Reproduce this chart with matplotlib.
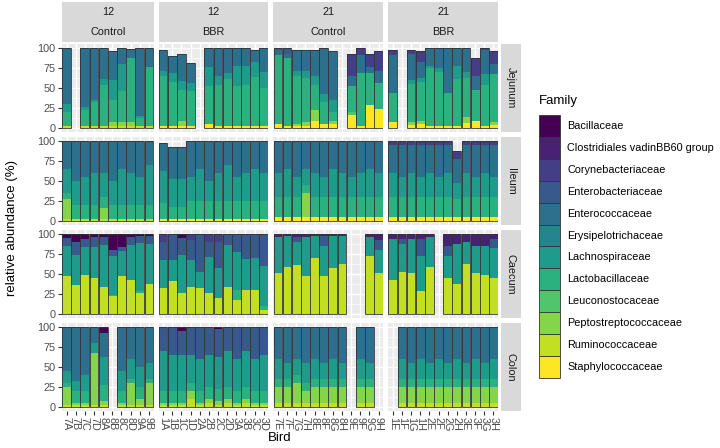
import matplotlib
matplotlib.use("Agg")
import matplotlib.pyplot as plt
from matplotlib.patches import Rectangle

plt.rcParams['font.family'] = ['Liberation Sans', 'DejaVu Sans']

# Families (legend order, top of the stack first) and viridis colours
families = ["Bacillaceae", "Clostridiales vadinBB60 group", "Corynebacteriaceae",
            "Enterobacteriaceae", "Enterococcaceae", "Erysipelotrichaceae",
            "Lachnospiraceae", "Lactobacillaceae", "Leuconostocaceae",
            "Peptostreptococcaceae", "Ruminococcaceae", "Staphylococcaceae"]
colors = ["#440154", "#482173", "#433E85", "#38598C", "#2D708E", "#25858E",
          "#1E9B8A", "#2BB07F", "#51C56A", "#85D54A", "#C2DF23", "#FDE725"]

days = ["12", "12", "21", "21"]
treatments = ["Control", "BBR", "Control", "BBR"]
tissues = ["Jejunum", "Ileum", "Caecum", "Colon"]

birds_12c = ["7A", "7B", "7C", "7D", "8A", "8B", "8C", "8D", "9A", "9B"]
birds_12b = ["1A", "1B", "1C", "1D", "2A", "2B", "2C", "2D", "3A", "3B", "3C", "3D"]
birds_21c = ["7E", "7F", "7G", "7H", "8E", "8F", "8G", "8H", "9E", "9F", "9G", "9H"]
birds_21b = ["1E", "1F", "1G", "1H", "2E", "2F", "2G", "2H", "3E", "3F", "3G", "3H"]

# relative abundance per bird, columns follow `families`
#            Bac Clo Cor Eb  Ec  Ery Lac Lab Leu Pep Rum Sta
jej_12c = [[0, 0, 0, 0, 70, 0, 10, 17, 0, 0, 3, 0],
           None,
           [0, 0, 0, 0, 74, 0, 4, 19, 0, 0, 3, 0],
           [0, 0, 0, 0, 65, 0, 2, 31, 0, 0, 2, 0],
           [0, 0, 0, 0, 39, 0, 7, 51, 0, 0, 3, 0],
           [0, 0, 0, 0, 36, 0, 25, 28, 0, 4, 3, 0],
           [0, 0, 0, 0, 20, 0, 34, 39, 0, 4, 3, 0],
           [0, 0, 0, 0, 11, 0, 0, 81, 0, 4, 3, 0],
           [0, 0, 0, 0, 85, 0, 2, 10, 0, 0, 3, 0],
           [0, 0, 0, 0, 24, 0, 0, 73, 0, 0, 3, 0]]
jej_12b = [[0, 0, 0, 0, 26, 0, 6, 62, 0, 0, 0, 3],
           [0, 0, 0, 0, 21, 0, 11, 56, 0, 0, 0, 2],
           [0, 0, 0, 0, 34, 0, 11, 39, 0, 6, 0, 3],
           [0, 0, 0, 0, 25, 0, 10, 44, 0, 0, 0, 2],
           None,
           [0, 0, 0, 0, 24, 0, 24, 47, 0, 0, 0, 5],
           [0, 0, 0, 0, 35, 0, 11, 52, 0, 0, 0, 2],
           [0, 0, 0, 0, 31, 0, 8, 59, 0, 0, 0, 2],
           [0, 0, 0, 0, 22, 0, 26, 50, 0, 0, 0, 2],
           [0, 0, 0, 0, 22, 0, 24, 52, 0, 0, 0, 2],
           [0, 0, 0, 0, 16, 0, 18, 62, 0, 0, 0, 2],
           [0, 0, 0, 0, 30, 0, 20, 48, 0, 0, 0, 2]]
jej_21c = [[0, 0, 0, 3, 6, 0, 0, 86, 0, 0, 0, 5],
           [0, 0, 0, 7, 5, 0, 0, 85, 0, 0, 0, 3],
           [0, 0, 0, 0, 27, 0, 6, 60, 0, 3, 0, 2],
           [0, 0, 0, 0, 27, 0, 8, 56, 0, 5, 0, 2],
           [0, 0, 0, 0, 32, 0, 11, 32, 0, 13, 0, 9],
           [0, 0, 0, 0, 58, 0, 9, 28, 0, 0, 0, 5],
           [0, 0, 0, 0, 61, 0, 15, 11, 0, 4, 0, 5],
           None,
           [0, 0, 28, 0, 13, 0, 0, 32, 4, 0, 0, 16],
           [0, 0, 9, 0, 22, 0, 0, 66, 0, 0, 0, 3],
           [0, 0, 17, 0, 7, 0, 0, 40, 0, 0, 0, 29],
           [0, 0, 25, 0, 15, 0, 0, 32, 0, 0, 0, 24]]
jej_21b = [[0, 0, 6, 0, 47, 0, 0, 37, 0, 0, 0, 7],
           None,
           [0, 0, 4, 0, 33, 0, 5, 48, 0, 3, 0, 4],
           [0, 0, 14, 0, 19, 0, 6, 48, 0, 4, 0, 5],
           [0, 0, 0, 0, 22, 0, 3, 73, 0, 0, 0, 2],
           [0, 0, 0, 0, 25, 0, 5, 68, 0, 0, 0, 2],
           [0, 0, 0, 0, 56, 0, 0, 42, 0, 0, 0, 2],
           [0, 0, 0, 0, 22, 0, 17, 58, 0, 0, 0, 3],
           [0, 0, 0, 0, 30, 0, 7, 49, 0, 8, 0, 6],
           [0, 0, 23, 0, 17, 0, 0, 39, 0, 0, 0, 9],
           [0, 0, 3, 0, 30, 0, 13, 52, 0, 0, 0, 2],
           [0, 0, 16, 0, 13, 0, 0, 60, 0, 3, 0, 4]]

ile_12c = [[0, 0, 0, 0, 35, 0, 30, 7, 0, 25, 3, 0],
           [0, 0, 0, 0, 50, 0, 30, 17, 0, 0, 3, 0],
           [0, 0, 0, 0, 45, 0, 35, 17, 0, 0, 3, 0],
           [0, 0, 0, 0, 40, 0, 40, 17, 0, 0, 3, 0],
           [0, 0, 0, 0, 40, 0, 30, 14, 0, 13, 3, 0],
           [0, 0, 0, 0, 50, 0, 30, 17, 0, 0, 3, 0],
           [0, 0, 0, 0, 35, 0, 45, 17, 0, 0, 3, 0],
           [0, 0, 0, 0, 40, 0, 40, 17, 0, 0, 3, 0],
           [0, 0, 0, 0, 45, 0, 35, 17, 0, 0, 3, 0],
           [0, 0, 0, 0, 30, 0, 50, 17, 0, 0, 3, 0]]
ile_12b = [[0, 0, 0, 0, 35, 0, 40, 20, 0, 0, 0, 2],
           [0, 0, 0, 0, 40, 0, 35, 16, 0, 0, 0, 2],
           [0, 0, 0, 0, 40, 0, 35, 16, 0, 0, 0, 2],
           [0, 0, 0, 0, 45, 0, 30, 23, 0, 0, 0, 2],
           [0, 0, 0, 0, 35, 0, 40, 23, 0, 0, 0, 2],
           [0, 0, 0, 0, 50, 0, 25, 23, 0, 0, 0, 2],
           [0, 0, 0, 0, 40, 0, 35, 23, 0, 0, 0, 2],
           [0, 0, 0, 0, 30, 0, 45, 23, 0, 0, 0, 2],
           [0, 0, 0, 0, 45, 0, 30, 23, 0, 0, 0, 2],
           [0, 0, 0, 0, 40, 0, 35, 23, 0, 0, 0, 2],
           [0, 0, 0, 0, 35, 0, 40, 23, 0, 0, 0, 2],
           [0, 0, 0, 0, 40, 0, 35, 23, 0, 0, 0, 2]]
ile_21c = [[0, 0, 0, 0, 40, 0, 30, 25, 0, 0, 0, 5],
           [0, 0, 0, 0, 35, 0, 35, 25, 0, 0, 0, 5],
           [0, 0, 0, 0, 45, 0, 25, 25, 0, 0, 0, 5],
           [0, 0, 0, 0, 35, 0, 20, 10, 0, 30, 0, 5],
           [0, 0, 0, 0, 40, 0, 30, 25, 0, 0, 0, 5],
           [0, 0, 0, 0, 45, 0, 25, 25, 0, 0, 0, 5],
           [0, 0, 0, 0, 35, 0, 35, 25, 0, 0, 0, 5],
           [0, 0, 0, 0, 40, 0, 30, 25, 0, 0, 0, 5],
           [0, 0, 0, 0, 45, 0, 25, 25, 0, 0, 0, 5],
           [0, 0, 0, 0, 40, 0, 30, 25, 0, 0, 0, 5],
           [0, 0, 0, 0, 35, 0, 35, 25, 0, 0, 0, 5],
           [0, 0, 0, 0, 40, 0, 30, 25, 0, 0, 0, 5]]
ile_21b = [[0, 0, 5, 0, 35, 0, 30, 25, 0, 0, 0, 5],
           [0, 0, 5, 0, 40, 0, 25, 25, 0, 0, 0, 5],
           [0, 0, 5, 0, 35, 0, 30, 25, 0, 0, 0, 5],
           [0, 0, 5, 0, 40, 0, 25, 25, 0, 0, 0, 5],
           [0, 0, 5, 0, 35, 0, 30, 25, 0, 0, 0, 5],
           [0, 0, 5, 0, 40, 0, 25, 25, 0, 0, 0, 5],
           [0, 0, 5, 0, 35, 0, 30, 25, 0, 0, 0, 5],
           [0, 0, 10, 0, 30, 0, 20, 23, 0, 0, 0, 5],
           [0, 0, 5, 0, 35, 0, 30, 25, 0, 0, 0, 5],
           [0, 0, 5, 0, 40, 0, 25, 25, 0, 0, 0, 5],
           [0, 0, 5, 0, 35, 0, 30, 25, 0, 0, 0, 5],
           [0, 0, 5, 0, 40, 0, 25, 25, 0, 0, 0, 5]]

cae_12c = [[5, 0, 0, 10, 0, 0, 38, 0, 0, 0, 47, 0],
           [10, 0, 0, 16, 0, 0, 38, 0, 0, 0, 36, 0],
           [6, 0, 0, 10, 0, 0, 35, 0, 0, 0, 49, 0],
           [4, 0, 0, 12, 0, 0, 39, 0, 0, 0, 45, 0],
           [4, 0, 0, 10, 0, 0, 52, 0, 0, 0, 34, 0],
           [20, 0, 0, 8, 0, 0, 48, 2, 0, 0, 22, 0],
           [16, 0, 0, 5, 0, 0, 32, 0, 0, 0, 47, 0],
           [4, 0, 0, 10, 0, 0, 44, 0, 0, 0, 42, 0],
           [3, 0, 0, 8, 0, 0, 60, 3, 0, 0, 26, 0],
           [2, 0, 0, 10, 0, 0, 50, 0, 0, 0, 38, 0]]
cae_12b = [[0, 0, 10, 23, 0, 0, 35, 0, 0, 0, 32, 0],
           [0, 0, 0, 32, 0, 0, 27, 0, 0, 0, 41, 0],
           [5, 0, 0, 21, 0, 0, 48, 0, 0, 0, 26, 0],
           [0, 0, 8, 25, 0, 0, 33, 0, 0, 0, 34, 0],
           [0, 0, 0, 47, 0, 0, 21, 0, 0, 0, 32, 0],
           [0, 0, 10, 19, 0, 0, 45, 0, 0, 0, 26, 0],
           [0, 0, 10, 33, 0, 0, 37, 0, 0, 0, 20, 0],
           [0, 0, 0, 14, 0, 0, 52, 0, 0, 0, 34, 0],
           [0, 0, 0, 22, 0, 0, 48, 13, 0, 0, 17, 0],
           [0, 0, 0, 31, 0, 0, 39, 0, 0, 0, 30, 0],
           [0, 0, 0, 30, 0, 0, 40, 0, 0, 0, 30, 0],
           [0, 0, 0, 40, 0, 0, 50, 5, 0, 0, 5, 0]]
cae_21c = [[0, 4, 0, 0, 0, 0, 45, 0, 0, 0, 51, 0],
           [0, 3, 0, 0, 0, 0, 38, 0, 0, 0, 59, 0],
           [0, 4, 0, 6, 0, 0, 29, 0, 0, 0, 61, 0],
           [0, 4, 0, 0, 0, 0, 49, 0, 0, 0, 47, 0],
           [0, 3, 0, 0, 0, 0, 27, 0, 0, 0, 70, 0],
           [0, 3, 0, 12, 0, 0, 37, 0, 0, 0, 48, 0],
           [0, 3, 0, 0, 0, 0, 39, 0, 0, 0, 58, 0],
           [0, 3, 0, 0, 0, 0, 35, 0, 0, 0, 62, 0],
           None,
           None,
           [0, 4, 0, 0, 0, 0, 23, 0, 0, 0, 73, 0],
           [0, 8, 0, 12, 0, 0, 29, 0, 0, 0, 51, 0]]
cae_21b = [[0, 6, 0, 0, 0, 0, 52, 0, 0, 0, 42, 0],
           [0, 6, 0, 6, 0, 0, 35, 0, 0, 0, 53, 0],
           [0, 6, 0, 0, 0, 0, 43, 0, 0, 0, 51, 0],
           [0, 6, 0, 21, 0, 0, 44, 0, 0, 0, 29, 0],
           [0, 4, 0, 0, 0, 0, 37, 0, 0, 0, 59, 0],
           None,
           [0, 15, 0, 12, 0, 0, 28, 0, 0, 0, 45, 0],
           [0, 12, 0, 0, 0, 0, 50, 0, 0, 0, 38, 0],
           [0, 10, 0, 0, 0, 0, 27, 0, 0, 0, 63, 0],
           [0, 15, 0, 0, 0, 0, 34, 0, 0, 0, 51, 0],
           [0, 15, 0, 0, 0, 0, 36, 0, 0, 0, 49, 0],
           [0, 6, 0, 12, 0, 0, 37, 0, 0, 0, 45, 0]]

col_12c = [[0, 0, 0, 0, 55, 0, 15, 5, 0, 22, 3, 0],
           [0, 0, 0, 0, 68, 0, 12, 15, 0, 2, 3, 0],
           [0, 0, 0, 0, 60, 0, 20, 15, 0, 2, 3, 0],
           [0, 0, 0, 0, 20, 0, 12, 0, 0, 65, 3, 0],
           [8, 0, 0, 0, 30, 0, 35, 20, 0, 4, 3, 0],
           None,
           [0, 0, 0, 0, 55, 0, 25, 15, 0, 2, 3, 0],
           [0, 0, 0, 0, 40, 0, 25, 5, 0, 27, 3, 0],
           [0, 0, 0, 0, 50, 0, 25, 15, 0, 7, 3, 0],
           [0, 0, 0, 0, 45, 0, 20, 5, 0, 27, 3, 0]]
col_12b = [[0, 0, 0, 30, 0, 0, 50, 15, 0, 3, 2, 0],
           [0, 0, 0, 35, 0, 0, 45, 15, 0, 3, 2, 0],
           [5, 0, 0, 30, 0, 0, 45, 15, 0, 3, 2, 0],
           [0, 0, 0, 35, 0, 0, 35, 10, 0, 10, 10, 0],
           [0, 0, 0, 40, 0, 0, 40, 15, 0, 3, 2, 0],
           [0, 0, 0, 35, 0, 0, 40, 15, 0, 5, 5, 0],
           [3, 0, 0, 35, 0, 0, 40, 15, 0, 5, 2, 0],
           [0, 0, 0, 30, 0, 0, 45, 15, 0, 5, 5, 0],
           [0, 0, 0, 40, 0, 0, 40, 15, 0, 3, 2, 0],
           [0, 0, 0, 30, 0, 0, 45, 15, 0, 5, 5, 0],
           [0, 0, 0, 40, 0, 0, 40, 15, 0, 3, 2, 0],
           [0, 0, 0, 35, 0, 0, 45, 15, 0, 3, 2, 0]]
col_21c = [[0, 0, 0, 0, 40, 0, 25, 10, 0, 20, 5, 0],
           [0, 0, 0, 0, 45, 0, 20, 10, 0, 20, 5, 0],
           [0, 0, 0, 0, 40, 0, 20, 10, 0, 25, 5, 0],
           [0, 0, 0, 0, 45, 0, 25, 10, 0, 15, 5, 0],
           [0, 0, 0, 0, 40, 0, 25, 10, 0, 20, 5, 0],
           [0, 0, 0, 0, 45, 0, 20, 10, 0, 20, 5, 0],
           [0, 0, 0, 0, 40, 0, 25, 10, 0, 20, 5, 0],
           [0, 0, 0, 0, 45, 0, 20, 10, 0, 20, 5, 0],
           None,
           [0, 0, 0, 0, 40, 0, 25, 10, 0, 20, 5, 0],
           [0, 0, 0, 0, 45, 0, 20, 10, 0, 20, 5, 0],
           None]
col_21b = [None,
           [0, 0, 0, 0, 40, 0, 25, 10, 0, 20, 5, 0],
           [0, 0, 0, 0, 45, 0, 20, 10, 0, 20, 5, 0],
           [0, 0, 0, 0, 40, 0, 25, 10, 0, 20, 5, 0],
           [0, 0, 0, 0, 45, 0, 20, 10, 0, 20, 5, 0],
           [0, 0, 0, 0, 40, 0, 25, 10, 0, 20, 5, 0],
           [0, 0, 0, 0, 45, 0, 20, 10, 0, 20, 5, 0],
           [0, 0, 0, 0, 40, 0, 25, 10, 0, 20, 5, 0],
           [0, 0, 0, 0, 45, 0, 20, 10, 0, 20, 5, 0],
           [0, 0, 0, 0, 40, 0, 25, 10, 0, 20, 5, 0],
           [0, 0, 0, 0, 45, 0, 20, 10, 0, 20, 5, 0],
           [0, 0, 0, 0, 40, 0, 25, 10, 0, 20, 5, 0]]

birds = [birds_12c, birds_12b, birds_21c, birds_21b]
data = [[jej_12c, jej_12b, jej_21c, jej_21b],
        [ile_12c, ile_12b, ile_21c, ile_21b],
        [cae_12c, cae_12b, cae_21c, cae_21b],
        [col_12c, col_12b, col_21c, col_21b]]

# layout in pixels
W, H = 720, 448
fig = plt.figure(figsize=(W / 100, H / 100), dpi=100)

def fx(x):
    return x / W

def fy(y):
    return 1 - y / H

left, right, gap = 62, 498, 5
unit = (right - left - 3 * gap) / sum(len(b) for b in birds)
col_x = []
x = left
for b in birds:
    col_x.append((x, x + unit * len(b)))
    x += unit * len(b) + gap
row_top = [44, 137, 230, 323]
row_h = 88

strip_col = "#D9D9D9"
txt_col = "#1A1A1A"

for r, tissue in enumerate(tissues):
    for c in range(4):
        x0, x1 = col_x[c]
        y0 = row_top[r]
        ax = fig.add_axes([fx(x0), fy(y0 + row_h), fx(x1 - x0), row_h / H])
        ax.set_facecolor("#EBEBEB")
        n = len(birds[c])
        ax.set_xlim(-0.5, n - 0.5)
        ax.set_ylim(-5, 105)
        ax.set_yticks([0, 25, 50, 75, 100])
        ax.set_yticks([12.5, 37.5, 62.5, 87.5], minor=True)
        ax.set_xticks(range(n))
        ax.grid(which="major", color="white", linewidth=1.0)
        ax.grid(which="minor", axis="y", color="white", linewidth=0.5)
        ax.set_axisbelow(True)
        for s in ax.spines.values():
            s.set_visible(False)
        ax.tick_params(which="major", length=3, width=0.8, color="#333333",
                       labelsize=7.8, labelcolor="#4D4D4D", pad=1.5)
        ax.tick_params(which="minor", length=0)

        for i, vals in enumerate(data[r][c]):
            if vals is None:
                continue
            bottom = 0
            for k in reversed(range(len(families))):
                if vals[k] > 0:
                    ax.bar(i, vals[k], bottom=bottom, width=0.96,
                           color=colors[k], linewidth=0)
                    bottom += vals[k]
            ax.bar(i, bottom, width=0.96, fill=False,
                   edgecolor="#333333", linewidth=0.6)

        if c == 0:
            ax.set_yticklabels(["0", "25", "50", "75", "100"])
        else:
            ax.set_yticklabels([])
            ax.tick_params(axis="y", length=0)
        if r == 3:
            ax.set_xticklabels(birds[c], rotation=-90, va="top", ha="center")
        else:
            ax.set_xticklabels([])
            ax.tick_params(axis="x", length=0)

    # right strip
    fig.add_artist(Rectangle((fx(501), fy(row_top[r] + row_h)), fx(20), row_h / H,
                             transform=fig.transFigure, color=strip_col, lw=0))
    fig.text(fx(511), fy(row_top[r] + row_h / 2), tissue, rotation=-90,
             ha="center", va="center", fontsize=7.8, color=txt_col)

# top strips
for c in range(4):
    x0, x1 = col_x[c]
    for j, lab in enumerate([days[c], treatments[c]]):
        ys = 2 + j * 20
        fig.add_artist(Rectangle((fx(x0), fy(ys + 20)), fx(x1 - x0), 20 / H,
                                 transform=fig.transFigure, color=strip_col, lw=0))
        fig.text(fx((x0 + x1) / 2), fy(ys + 10), lab, ha="center", va="center",
                 fontsize=7.8, color=txt_col)

fig.text(fx(12), fy((row_top[0] + row_top[3] + row_h) / 2), "relative abundance (%)",
         rotation=90, ha="center", va="center", fontsize=9.5, color="black")
fig.text(fx((left + right) / 2), fy(438), "Bird", ha="center", va="center",
         fontsize=9.5, color="black")

# legend
fig.text(fx(539), fy(101), "Family", ha="left", va="center", fontsize=9.5)
key_h = 21.9
for k, fam in enumerate(families):
    yc = 126 + k * key_h
    fig.add_artist(Rectangle((fx(539), fy(yc + key_h / 2)), fx(21), key_h / H,
                             transform=fig.transFigure, facecolor=colors[k],
                             edgecolor="#333333", lw=0.6))
    fig.text(fx(567), fy(yc), fam, ha="left", va="center", fontsize=7.8)

fig.savefig("out.png", dpi=100)
